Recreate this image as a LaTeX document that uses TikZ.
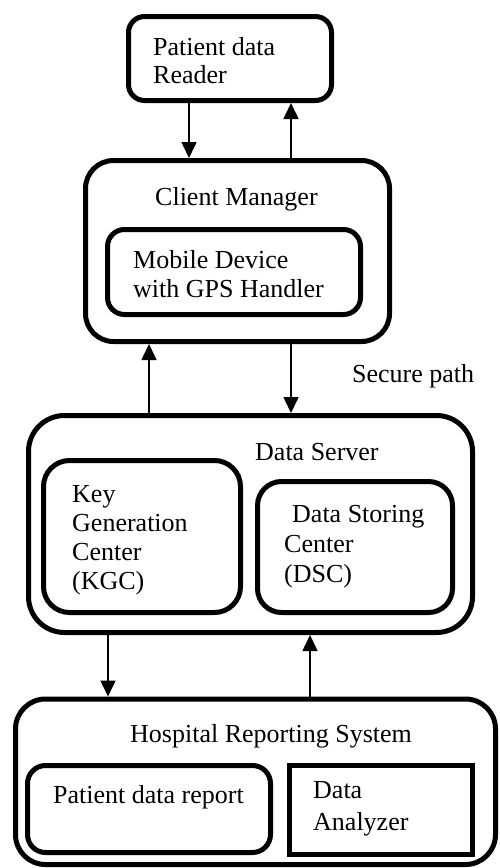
\documentclass[tikz,border=0pt]{standalone}
\usepackage{fontspec}
\setmainfont{Liberation Serif}
\usetikzlibrary{arrows.meta}
\begin{document}
\begin{tikzpicture}[x=1pt,y=-1pt,
  box/.style={draw,line width=5pt,rectangle,inner sep=0pt,minimum width=#1},
  lbl/.style={anchor=base west,inner sep=0pt,font=\fontsize{26}{29}\selectfont},
  arr/.style={line width=1.6pt,-{Triangle[width=15pt,length=16pt]}}]
\useasboundingbox (0,0) rectangle (500,868);

% outer blocks
\node[box=203pt,minimum height=84pt,rounded corners=16pt] (reader) at (230,58.5) {};
\node[box=304pt,minimum height=181pt,rounded corners=28pt] (client) at (237.5,251) {};
\node[box=253pt,minimum height=85pt,rounded corners=17pt] (mobile) at (234,272) {};
\node[box=444pt,minimum height=217pt,rounded corners=36pt] (server) at (250.5,524) {};
\node[box=197pt,minimum height=152pt,rounded corners=26pt] (kgc) at (142,536.5) {};
\node[box=195pt,minimum height=131pt,rounded corners=24pt] (dsc) at (355,547) {};
\node[box=480pt,minimum height=165.5pt,rounded corners=30pt] (hrs) at (255.5,781.75) {};
\node[box=243pt,minimum height=87pt,rounded corners=18pt] (report) at (149,809) {};
\node[box=183pt,minimum height=89pt] (analyzer) at (381,810) {};

% labels
\node[lbl] (t1a) at (153,55) {Patient data};
\node[lbl] (t1b) at (153,83) {Reader};
\node[lbl] (t2) at (155,205) {Client Manager};
\node[lbl] (t3a) at (133,268) {Mobile Device};
\node[lbl] (t3b) at (133,297) {with GPS Handler};
\node[lbl] (t4) at (352,382) {Secure path};
\node[lbl] (t5) at (255,460) {Data Server};
\node[lbl] (t6a) at (72,502) {Key};
\node[lbl] (t6b) at (72,531) {Generation};
\node[lbl] (t6c) at (72,560) {Center};
\node[lbl] (t6d) at (72,589) {(KGC)};
\node[lbl] (t7a) at (292,522) {Data Storing};
\node[lbl] (t7b) at (284,552) {Center};
\node[lbl] (t7c) at (284,582) {(DSC)};
\node[lbl] (t8) at (130,742) {Hospital Reporting System};
\node[lbl] (t9) at (53,803) {Patient data report};
\node[lbl] (t10a) at (313,798) {Data};
\node[lbl] (t10b) at (313,830) {Analyzer};

% connector columns
\coordinate (a1) at (189,0);
\coordinate (a2) at (291,0);
\coordinate (b1) at (149,0);
\coordinate (b2) at (291,0);
\coordinate (c1) at (108,0);
\coordinate (c2) at (310,0);

% connectors
\draw[arr] (reader.south -| a1) -- (client.north -| a1);
\draw[arr] (client.north -| a2) -- (reader.south -| a2);
\draw[arr] (server.north -| b1) -- (client.south -| b1);
\draw[arr] (client.south -| b2) -- (server.north -| b2);
\draw[arr] (server.south -| c1) -- (hrs.north -| c1);
\draw[arr] (hrs.north -| c2) -- (server.south -| c2);
\end{tikzpicture}
\end{document}
